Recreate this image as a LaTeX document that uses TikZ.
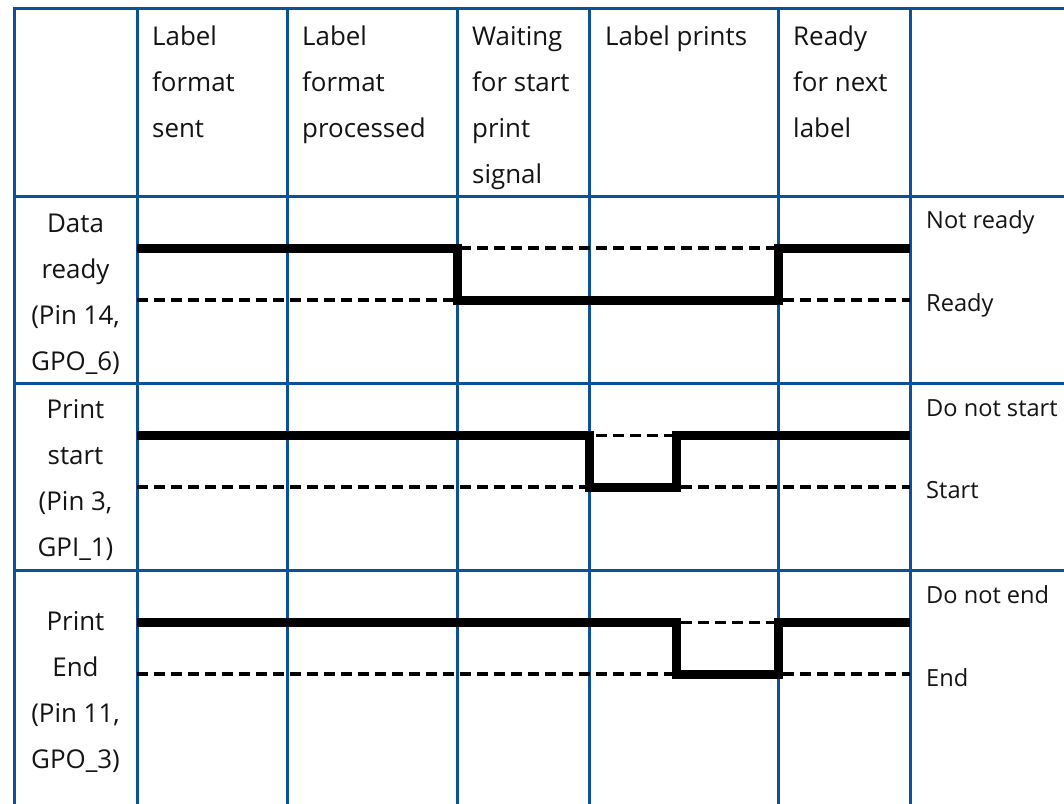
\documentclass[tikz,border=0pt]{standalone}
\usepackage{fontspec}
\setmainfont{Open Sans}
\definecolor{gridblue}{HTML}{0B509B}
\begin{document}
\begin{tikzpicture}[x=1pt,y=-1pt,
  gridline/.style={draw=gridblue,line width=3pt,line cap=rect},
  levelline/.style={draw=black,line width=3.2pt,dash pattern=on 11pt off 6pt},
  signal/.style={draw=black,line width=9pt,line join=miter},
  hdr/.style={inner sep=0pt,anchor=base west,font=\fontsize{25.9}{30}\selectfont,text=black!92},
  rowlbl/.style={inner sep=0pt,anchor=base,font=\fontsize{25.9}{30}\selectfont,text=black!92},
  statelbl/.style={inner sep=0pt,anchor=base west,font=\fontsize{23.6}{28}\selectfont,text=black!92}]
\useasboundingbox (0,0) rectangle (1064,803);
\fill[white] (0,0) rectangle (1064,803);
% grid
\foreach \gx in {14,137,287,457,589,778,910}
  \draw[gridline] (\gx,8.5) -- (\gx,806);
\foreach \gy in {8.5,196,383,570}
  \draw[gridline] (14,\gy) -- (1068,\gy);
% header texts
\foreach \t [count=\i] in {Label,format,sent}
  \node[hdr] (ha\i) at ({152},{45+46*(\i-1)}) {\t};
\foreach \t [count=\i] in {Label,format,processed}
  \node[hdr] (hb\i) at ({302},{45+46*(\i-1)}) {\t};
\foreach \t [count=\i] in {Waiting,for start,print,signal}
  \node[hdr] (hc\i) at ({472},{45+46*(\i-1)}) {\t};
\node[hdr] (hd1) at (605,45) {Label prints};
\foreach \t [count=\i] in {Ready,for next,label}
  \node[hdr] (he\i) at ({793},{45+46*(\i-1)}) {\t};
% row labels
\foreach \t [count=\i] in {Data,ready,{(Pin 14,},GPO\_6)}
  \node[rowlbl] (ra\i) at ({75.5},{232+46*(\i-1)}) {\t};
\foreach \t [count=\i] in {Print,start,{(Pin 3,},GPI\_1)}
  \node[rowlbl] (rb\i) at ({75.5},{418+46*(\i-1)}) {\t};
\foreach \t [count=\i] in {Print,End,{(Pin 11,},GPO\_3)}
  \node[rowlbl] (rc\i) at ({75.5},{630+46*(\i-1)}) {\t};
% state labels
\node[statelbl] (sa1) at (926,228) {Not ready};
\node[statelbl] (sa2) at (926,311) {Ready};
\node[statelbl] (sb1) at (926,416) {Do not start};
\node[statelbl] (sb2) at (926,498) {Start};
\node[statelbl] (sc1) at (926,603) {Do not end};
\node[statelbl] (sc2) at (926,686) {End};
% level reference lines
\foreach \ly in {248,300,435.5,487,622.5,674}
  \draw[levelline] (137,\ly) -- (910,\ly);
% signals
\draw[signal] (137,248) -- (457,248) -- (457,300) -- (778,300) -- (778,248) -- (910,248);
\draw[signal] (137,435.5) -- (589,435.5) -- (589,487) -- (676,487) -- (676,435.5) -- (910,435.5);
\draw[signal] (137,622.5) -- (676,622.5) -- (676,674) -- (778,674) -- (778,622.5) -- (910,622.5);
\end{tikzpicture}
\end{document}
